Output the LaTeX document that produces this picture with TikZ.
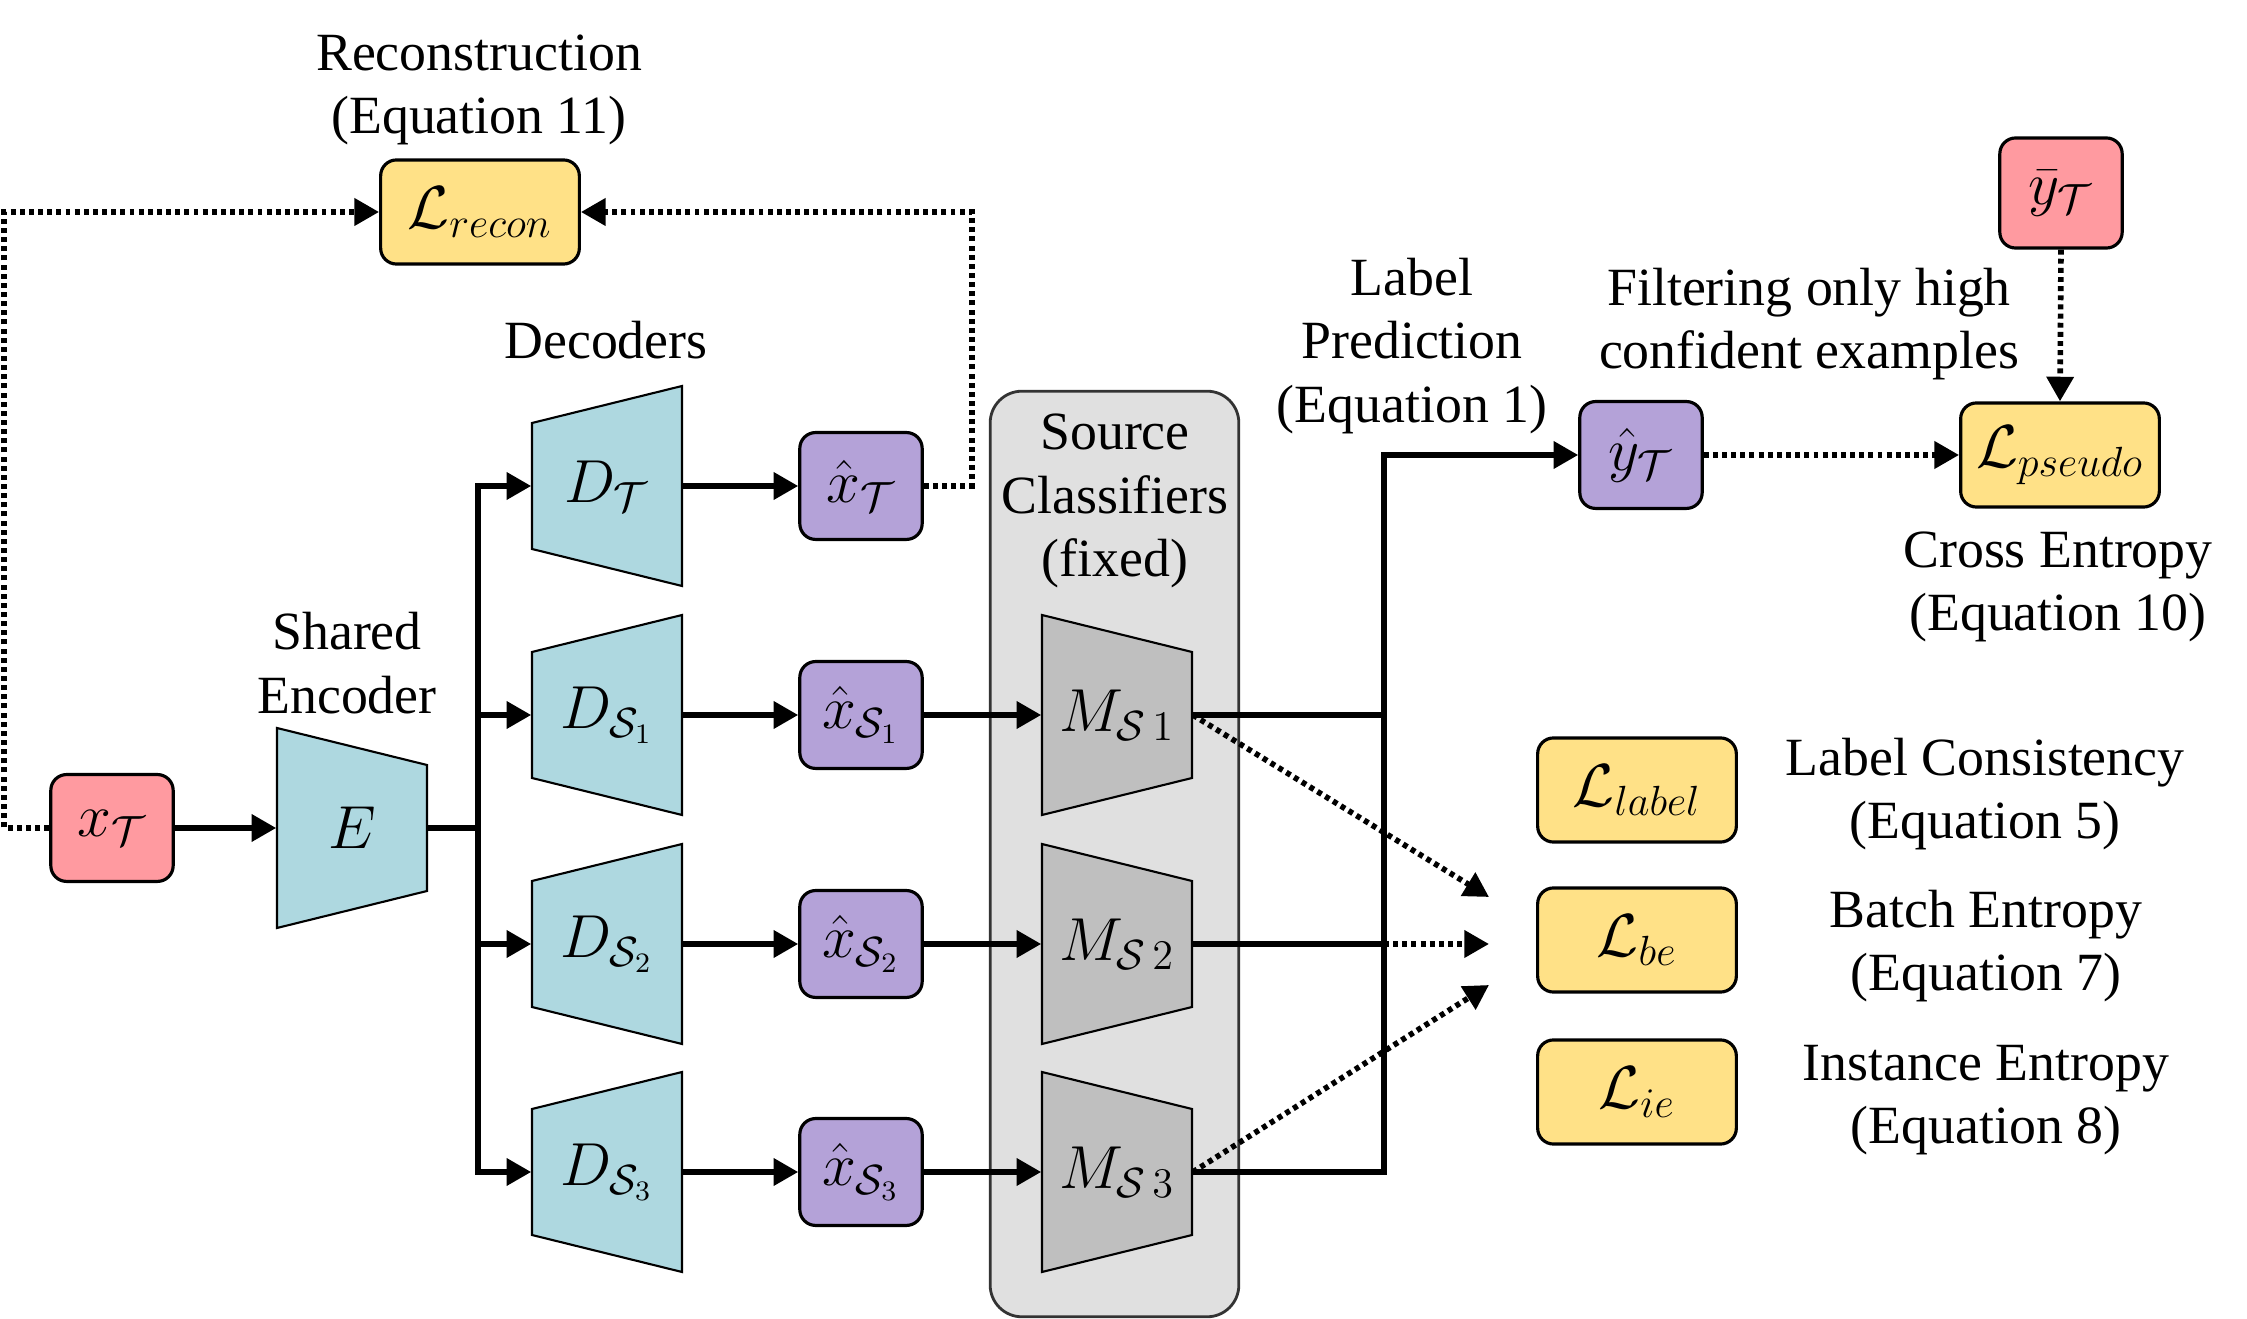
\documentclass[tikz,border=0pt]{standalone}
\usepackage{fontspec}
\setmainfont{Liberation Serif}
\usetikzlibrary{arrows.meta,backgrounds,calc}
\definecolor{cpink}{RGB}{255,154,160}
\definecolor{cpurple}{RGB}{180,162,216}
\definecolor{cyellow}{RGB}{255,225,135}
\definecolor{cteal}{RGB}{174,216,224}
\definecolor{cgrayM}{RGB}{191,191,191}
\definecolor{ccont}{RGB}{224,224,224}
\newcommand\mytrapE[2]{\draw[#2, shift={(#1.center)}] (-75,-100) -- (75,-63) -- (75,63) -- (-75,100) -- cycle;}
\newcommand\mytrapD[2]{\draw[#2, shift={(#1.center)}] (-75,-63) -- (75,-100) -- (75,100) -- (-75,63) -- cycle;}
\begin{document}
\begin{tikzpicture}[x=0.01cm,y=-0.01cm,
  font=\fontsize{15.3}{18}\selectfont,
  mathfont/.style={font=\fontsize{17}{20}\selectfont},
  sbox/.style={draw=black, line width=0.9pt, rounded corners=4.5pt, minimum width=34.8pt, minimum height=30.4pt, inner sep=0pt, mathfont},
  lbox/.style={draw=black, line width=0.9pt, rounded corners=4.5pt, minimum width=56.5pt, minimum height=29.6pt, inner sep=0pt, fill=cyellow, mathfont},
  trap/.style={minimum width=42.7pt, minimum height=56.9pt, inner sep=0pt, mathfont},
  tshape/.style={draw=black, line width=0.6pt, fill=cteal},
  mshape/.style={draw=black, line width=0.6pt, fill=cgrayM},
  lbl/.style={align=center, inner sep=0pt},
  conn/.style={line width=1.6pt, -{Triangle[length=7pt,width=7.5pt]}},
  plain/.style={line width=1.6pt},
  dotconn/.style={line width=1.6pt, dash pattern=on 1.4pt off 1.2pt, -{Triangle[length=7pt,width=7.5pt]}}
]
\useasboundingbox (0,0) rectangle (2247,1319);

% source classifier container
\node[draw=black!80, line width=0.8pt, fill=ccont, rounded corners=9pt, minimum width=70.7pt, minimum height=263.2pt, inner sep=0pt] (SC) at (1114.5,854) {};
\node[lbl] (SCt) at (1115,501) {Source\\Classifiers\\(fixed)};

% blocks
\node[sbox, fill=cpink] (xT) at (112,828) {$x_{\mathcal{T}}$};
\node[trap] (E) at (352,828) {$E$};
\node[trap] (DT) at (607,486) {$D_{\mathcal{T}}$};
\node[trap] (D1) at (607,715) {$D_{\mathcal{S}_1}$};
\node[trap] (D2) at (607,944) {$D_{\mathcal{S}_2}$};
\node[trap] (D3) at (607,1172) {$D_{\mathcal{S}_3}$};
\node[sbox, fill=cpurple] (xhT) at (861,486) {$\hat{x}_{\mathcal{T}}$};
\node[sbox, fill=cpurple] (xs1) at (861,715) {$\hat{x}_{\mathcal{S}_1}$};
\node[sbox, fill=cpurple] (xs2) at (861,944) {$\hat{x}_{\mathcal{S}_2}$};
\node[sbox, fill=cpurple] (xs3) at (861,1172) {$\hat{x}_{\mathcal{S}_3}$};
\node[trap] (M1) at (1117,715) {};
\node[trap] (M2) at (1117,944) {};
\node[trap] (M3) at (1117,1172) {};

\begin{scope}[on background layer]
  \mytrapE{E}{tshape}
  \mytrapD{DT}{tshape}
  \mytrapD{D1}{tshape}
  \mytrapD{D2}{tshape}
  \mytrapD{D3}{tshape}
\end{scope}
\mytrapE{M1}{mshape}
\mytrapE{M2}{mshape}
\mytrapE{M3}{mshape}
\node[trap] (M1t) at (M1) {$M_{\mathcal{S}\,1}$};
\node[trap] (M2t) at (M2) {$M_{\mathcal{S}\,2}$};
\node[trap] (M3t) at (M3) {$M_{\mathcal{S}\,3}$};

\node[lbox] (Lrecon) at (480,212) {$\mathcal{L}_{recon}$};
\node[sbox, fill=cpurple] (yhat) at (1641,455) {$\hat{y}_{\mathcal{T}}$};
\node[lbox] (Lpseudo) at (2060,455) {$\mathcal{L}_{pseudo}$};
\node[sbox, fill=cpink, minimum height=31.3pt] (ybar) at (2061,193) {$\bar{y}_{\mathcal{T}}$};
\node[lbox] (Llabel) at (1637,790) {$\mathcal{L}_{label}$};
\node[lbox] (Lbe) at (1637,940) {$\mathcal{L}_{be}$};
\node[lbox] (Lie) at (1637,1092) {$\mathcal{L}_{ie}$};

% text labels
\node[lbl] (tRec) at (479,90) {Reconstruction\\(Equation 11)};
\node[lbl] (tDec) at (606,340) {Decoders};
\node[lbl] (tEnc) at (347,663) {Shared\\Encoder};
\node[lbl] (tLP) at (1412,346) {Label\\Prediction\\(Equation 1)};
\node[lbl] (tFil) at (1809,324) {Filtering only high\\confident examples};
\node[lbl] (tCE) at (2058,587) {Cross Entropy\\(Equation 10)};
\node[lbl] (tLC) at (1985,794) {Label Consistency\\(Equation 5)};
\node[lbl] (tBE) at (1986,946) {Batch Entropy\\(Equation 7)};
\node[lbl] (tIE) at (1986,1100) {Instance Entropy\\(Equation 8)};

% coordinates
\coordinate (ebus) at (478,828);
\coordinate (mbus) at (1384,455);
\coordinate (p1) at (1489,897);
\coordinate (p2) at (1489,944);
\coordinate (p3) at (1489,985);

% connectors
\draw[conn] (xT.east) -- (E.west);
\draw[plain] (E.east) -- (ebus);
\draw[conn] (ebus) |- (DT.west);
\draw[conn] (ebus) |- (D1.west);
\draw[conn] (ebus) |- (D2.west);
\draw[conn] (ebus) |- (D3.west);
\draw[conn] (DT.east) -- (xhT.west);
\draw[conn] (D1.east) -- (xs1.west);
\draw[conn] (D2.east) -- (xs2.west);
\draw[conn] (D3.east) -- (xs3.west);
\draw[conn] (xs1.east) -- (M1.west);
\draw[conn] (xs2.east) -- (M2.west);
\draw[conn] (xs3.east) -- (M3.west);

\draw[plain] (M1.east) -- (M1.east -| mbus);
\draw[plain] (M2.east) -- (M2.east -| mbus);
\draw[conn] (M3.east) -| (mbus) -- (yhat.west);

\draw[dotconn] (M1.east) -- (p1);
\draw[dotconn] (M2.east -| mbus) -- (p2);
\draw[dotconn] (M3.east) -- (p3);

\draw[dotconn] (xT.west) -- ++(-45,0) |- (Lrecon.west);
\draw[dotconn] (xhT.east) -- ++(48,0) |- (Lrecon.east);
\draw[dotconn] (yhat.east) -- (Lpseudo.west);
\draw[dotconn] (ybar.south) -- (Lpseudo.north);
\end{tikzpicture}
\end{document}
